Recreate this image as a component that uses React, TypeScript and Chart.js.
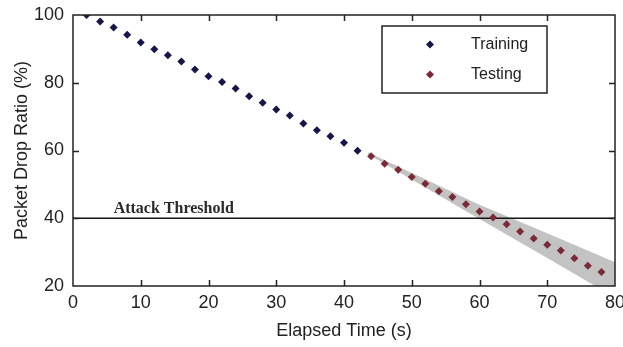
import React, { useEffect, useRef } from "react";
import { Chart, registerables } from "chart.js";

Chart.register(...registerables);

// ---- data ----
const xTicks = [0, 10, 20, 30, 40, 50, 60, 70, 80];
const yTicks = [20, 40, 60, 80, 100];

const trainX = [2, 4, 6, 8, 10, 12, 14, 16, 18, 20, 22, 24, 26, 28, 30, 32, 34, 36, 38, 40, 42];
const trainY = [100, 98.1, 96.3, 94.2, 91.9, 89.9, 88.1, 86.3, 83.9, 81.9, 80.2, 78.3, 76.0, 74.1, 72.1, 70.3, 68.0, 66.0, 64.2, 62.3, 59.9];

const testX = [44, 46, 48, 50, 52, 54, 56, 58, 60, 62, 64, 66, 68, 70, 72, 74, 76, 78];
const testY = [58.3, 56.1, 54.3, 52.2, 50.2, 48.0, 46.3, 44.1, 42.0, 40.2, 38.2, 36.1, 34.0, 32.2, 30.5, 28.2, 26.0, 24.1];

const bandX = [43.5, 60, 70, 80];
const bandUpper = [59.5, 44.0, 35.6, 27.0];
const bandLower = [59.0, 39.8, 28.3, 16.6];

const thresholdX = [0, 80];
const thresholdValue = 40;
const thresholdLabel = "Attack Threshold";
const thresholdLabelX = 6;

const seriesLabels = ["Training", "Testing"];
const seriesColors = ["#15154a", "#7a2a36"];

const xTitle = "Elapsed Time (s)";
const yTitle = "Packet Drop Ratio (%)";

const toPts = (xs: number[], ys: number[]) => xs.map((x, i) => ({ x, y: ys[i] }));

const SANS = "'Liberation Sans', Arial, sans-serif";
const SERIF = "'Liberation Serif', 'Times New Roman', serif";

function diamond(ctx: CanvasRenderingContext2D, x: number, y: number, r: number, color: string) {
  ctx.beginPath();
  ctx.moveTo(x, y - r);
  ctx.lineTo(x + r, y);
  ctx.lineTo(x, y + r);
  ctx.lineTo(x - r, y);
  ctx.closePath();
  ctx.fillStyle = color;
  ctx.fill();
}

export default function App() {
  const ref = useRef<HTMLCanvasElement>(null);

  useEffect(() => {
    const canvas = ref.current;
    if (!canvas) return;

    const decor = {
      id: "decor",
      afterDatasetsDraw(chart: any) {
        const { ctx, chartArea: a, scales } = chart;
        const xs = scales.x;
        const ys = scales.y;
        ctx.save();

        // threshold label
        ctx.font = `bold 16px ${SERIF}`;
        ctx.fillStyle = "#2a2a2a";
        ctx.textAlign = "left";
        ctx.textBaseline = "alphabetic";
        ctx.fillText(thresholdLabel, xs.getPixelForValue(thresholdLabelX), ys.getPixelForValue(thresholdValue) - 5);

        // frame
        ctx.strokeStyle = "#222";
        ctx.lineWidth = 1.5;
        ctx.strokeRect(a.left, a.top, a.right - a.left, a.bottom - a.top);

        // inward ticks
        const tl = 6;
        ctx.beginPath();
        xTicks.forEach((v, i) => {
          if (i === 0 || i === xTicks.length - 1) return;
          const px = Math.round(xs.getPixelForValue(v)) + 0.5;
          ctx.moveTo(px, a.bottom);
          ctx.lineTo(px, a.bottom - tl);
          ctx.moveTo(px, a.top);
          ctx.lineTo(px, a.top + tl);
        });
        yTicks.forEach((v, i) => {
          if (i === 0 || i === yTicks.length - 1) return;
          const py = Math.round(ys.getPixelForValue(v)) + 0.5;
          ctx.moveTo(a.left, py);
          ctx.lineTo(a.left + tl, py);
          ctx.moveTo(a.right, py);
          ctx.lineTo(a.right - tl, py);
        });
        ctx.stroke();

        // legend box
        const bx = a.left + 309;
        const by = a.top + 11;
        const bw = 165;
        const bh = 67;
        ctx.fillStyle = "#fff";
        ctx.fillRect(bx, by, bw, bh);
        ctx.lineWidth = 1.5;
        ctx.strokeStyle = "#222";
        ctx.strokeRect(bx, by, bw, bh);
        ctx.font = `16px ${SANS}`;
        ctx.textBaseline = "middle";
        ctx.textAlign = "left";
        seriesLabels.forEach((lab, i) => {
          const ry = by + 18.5 + i * 30;
          diamond(ctx, bx + 48, ry, 4, seriesColors[i]);
          ctx.fillStyle = "#222";
          ctx.fillText(lab, bx + 89, ry + 0.5);
        });

        ctx.restore();
      },
    };

    const chart = new Chart(canvas, {
      type: "scatter",
      data: {
        datasets: [
          {
            label: seriesLabels[0],
            data: toPts(trainX, trainY),
            pointStyle: "rectRot",
            pointRadius: 4,
            backgroundColor: seriesColors[0],
            borderColor: seriesColors[0],
            borderWidth: 0,
            order: 0,
          },
          {
            label: seriesLabels[1],
            data: toPts(testX, testY),
            pointStyle: "rectRot",
            pointRadius: 4,
            backgroundColor: seriesColors[1],
            borderColor: seriesColors[1],
            borderWidth: 0,
            order: 0,
          },
          {
            label: "threshold",
            data: toPts(thresholdX, [thresholdValue, thresholdValue]),
            showLine: true,
            pointRadius: 0,
            borderColor: "#151515",
            borderWidth: 1.6,
            order: 1,
          },
          {
            label: "bandUpper",
            data: toPts(bandX, bandUpper),
            showLine: true,
            pointRadius: 0,
            borderWidth: 0,
            borderColor: "rgba(0,0,0,0)",
            backgroundColor: "#c3c3c3",
            fill: "+1",
            order: 5,
          },
          {
            label: "bandLower",
            data: toPts(bandX, bandLower),
            showLine: true,
            pointRadius: 0,
            borderWidth: 0,
            borderColor: "rgba(0,0,0,0)",
            fill: false,
            order: 5,
          },
        ],
      },
      options: {
        animation: false,
        responsive: false,
        maintainAspectRatio: false,
        layout: { padding: { top: 15, right: 8, left: 0, bottom: 0 } },
        plugins: {
          legend: { display: false },
          tooltip: { enabled: false },
        },
        scales: {
          x: {
            type: "linear",
            min: 0,
            max: 80,
            grid: { display: false, drawTicks: false },
            border: { display: false },
            afterBuildTicks: (s: any) => {
              s.ticks = xTicks.map((v) => ({ value: v }));
            },
            afterFit: (s: any) => {
              s.height = 61;
              s.paddingLeft = 0;
              s.paddingRight = 0;
            },
            ticks: {
              padding: 6,
              autoSkip: false,
              maxRotation: 0,
              color: "#222",
              font: { family: SANS, size: 18 },
            },
            title: {
              display: true,
              text: xTitle,
              color: "#222",
              font: { family: SANS, size: 18 },
              padding: { top: 0, bottom: 5 },
            },
          },
          y: {
            type: "linear",
            min: 20,
            max: 100,
            grid: { display: false, drawTicks: false },
            border: { display: false },
            afterBuildTicks: (s: any) => {
              s.ticks = yTicks.map((v) => ({ value: v }));
            },
            afterFit: (s: any) => {
              s.width = 73;
              s.paddingTop = 0;
              s.paddingBottom = 0;
            },
            ticks: {
              padding: 9,
              autoSkip: false,
              color: "#222",
              font: { family: SANS, size: 18 },
            },
            title: {
              display: true,
              text: yTitle,
              color: "#222",
              font: { family: SANS, size: 18 },
              padding: { top: 11, bottom: 0 },
            },
          },
        },
      },
      plugins: [decor],
    });

    return () => chart.destroy();
  }, []);

  return (
    <div style={{ position: "fixed", left: 0, top: 0, width: 623, height: 347, background: "#fff" }}>
      <canvas ref={ref} width={623} height={347} style={{ display: "block" }} />
    </div>
  );
}
